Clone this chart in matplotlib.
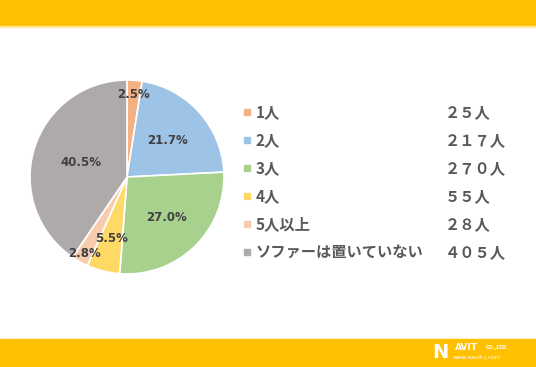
import numpy as np
import matplotlib.pyplot as plt
from matplotlib.patches import Rectangle

plt.rcParams['font.family'] = ['Noto Sans CJK JP', 'DejaVu Sans']

labels = ['1人', '2人', '3人', '4人', '5人以上', 'ソファーは置いていない']
counts = [25, 217, 270, 55, 28, 405]
count_text = ['２５人', '２１７人', '２７０人', '５５人', '２８人', '４０５人']
pct_text = ['2.5%', '21.7%', '27.0%', '5.5%', '2.8%', '40.5%']
colors = ['#F4B183', '#9DC3E6', '#A9D18E', '#FFD966', '#F8CBAD', '#AEAAAA']

W, H = 536, 367
fig = plt.figure(figsize=(W / 100, H / 100), dpi=100)

def fx(px):
    return px / W

def fy(py):
    # pixel from top -> figure fraction
    return 1 - py / H

# yellow bands
fig.patches.append(Rectangle((0, fy(26)), 1, 26 / H, transform=fig.transFigure,
                             color='#FFC000', zorder=0))
fig.patches.append(Rectangle((0, fy(27)), 1, 1 / H, transform=fig.transFigure,
                             color='#FFE699', zorder=0))
fig.patches.append(Rectangle((0, 0), 1, 28 / H, transform=fig.transFigure,
                             color='#FFC000', zorder=0))

# pie
cx, cy, r = 127, 177, 97
ax = fig.add_axes([fx(cx - r), fy(cy + r), 2 * r / W, 2 * r / H])
wedges, _ = ax.pie(counts, colors=colors, startangle=90, counterclock=False,
                   wedgeprops=dict(edgecolor='white', linewidth=1.2), radius=1)
ax.set_xlim(-1, 1)
ax.set_ylim(-1, 1)
ax.set_aspect('auto')
ax.axis('off')

label_r = [0.85, 0.56, 0.59, 0.65, 0.9, 0.5]
for w, t, lr in zip(wedges, pct_text, label_r):
    ang = np.deg2rad((w.theta1 + w.theta2) / 2)
    ax.text(lr * np.cos(ang), lr * np.sin(ang), t, ha='center', va='center',
            fontsize=8.5, fontweight='bold', color='#404040', family='DejaVu Sans')

# legend
for i, (lab, ct, c) in enumerate(zip(labels, count_text, colors)):
    y = 112 + 28 * i
    fig.patches.append(Rectangle((fx(244), fy(y + 3)), 6 / W, 6 / H,
                                 transform=fig.transFigure, color=c))
    fig.text(fx(256), fy(y), lab, ha='left', va='center', fontsize=11,
             fontweight='bold', color='#595959')
    fig.text(fx(445), fy(y), ct, ha='left', va='center', fontsize=11,
             fontweight='bold', color='#595959')

# logo
fig.text(fx(432), fy(352), 'N', ha='left', va='center', fontsize=14,
         fontweight='bold', color='white', family='DejaVu Sans')
fig.text(fx(455), fy(347), 'AVIT', ha='left', va='center', fontsize=6.5,
         fontweight='bold', color='white', family='DejaVu Sans')
fig.text(fx(486), fy(348), 'CO.,LTD.', ha='left', va='center', fontsize=3.5,
         fontweight='bold', color='white', family='DejaVu Sans')
fig.text(fx(453), fy(357), 'www.navit-j.com', ha='left', va='center', fontsize=4.2,
         color='white', family='DejaVu Sans')

fig.savefig('out.png', dpi=100)
